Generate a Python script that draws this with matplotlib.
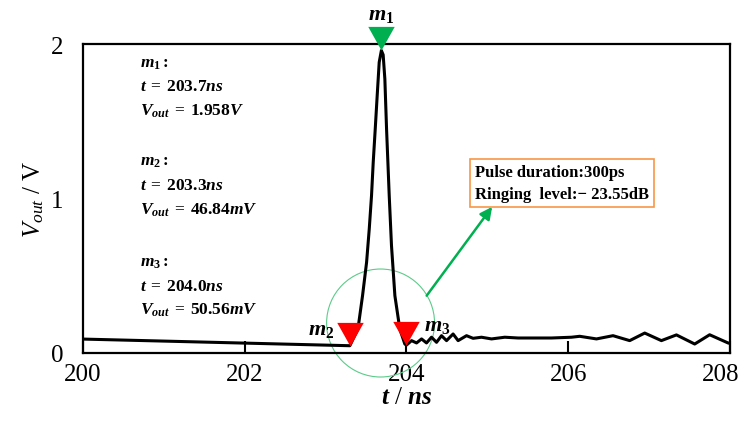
import matplotlib
matplotlib.use("Agg")
import matplotlib.pyplot as plt
import matplotlib.transforms as mtransforms
from matplotlib.path import Path
from matplotlib.patches import Ellipse

plt.rcParams['font.family'] = ['Liberation Serif', 'DejaVu Serif']
plt.rcParams['mathtext.fontset'] = 'custom'
plt.rcParams['mathtext.rm'] = 'Liberation Serif'
plt.rcParams['mathtext.it'] = 'Liberation Serif:italic'
plt.rcParams['mathtext.bf'] = 'Liberation Serif:bold'
plt.rcParams['mathtext.bfit'] = 'Liberation Serif:bold:italic'

# 読み取った波形 (ns, V)
t_base = [200.0, 203.3]
v_base = [0.09, 0.047]

t_peak = [203.3, 203.40, 203.457, 203.507, 203.54, 203.568, 203.589, 203.614,
          203.638, 203.663, 203.69, 203.712, 203.733, 203.754, 203.787,
          203.815, 203.857, 203.918, 203.98, 204.0]
v_peak = [0.047, 0.155, 0.371, 0.587, 0.803, 1.018, 1.234, 1.45,
          1.665, 1.882, 1.958, 1.93, 1.773, 1.45, 1.018,
          0.695, 0.371, 0.155, 0.058, 0.051]

t_ring = [204.063, 204.125, 204.187, 204.248, 204.310, 204.372, 204.434,
          204.496, 204.577, 204.639, 204.743, 204.824, 204.928, 205.052,
          205.216, 205.381, 205.587, 205.794, 206.041, 206.143, 206.350,
          206.555, 206.761, 206.947, 207.153, 207.339, 207.565, 207.750,
          207.977, 208.0]
v_ring = [0.080, 0.065, 0.091, 0.065, 0.102, 0.069, 0.112,
          0.080, 0.123, 0.080, 0.112, 0.095, 0.102, 0.091,
          0.102, 0.097, 0.097, 0.097, 0.102, 0.108, 0.091,
          0.112, 0.080, 0.129, 0.080, 0.117, 0.058, 0.118,
          0.065, 0.062]

t = t_base + t_peak[1:] + t_ring
v = v_base + v_peak[1:] + v_ring

# マーカー
m_t = [203.69, 203.3, 204.0]
m_v = [1.958, 0.047, 0.051]

x_ticks = [200, 202, 204, 206, 208]
y_ticks = [0, 1, 2]

fig = plt.figure(figsize=(7.44, 4.27), dpi=100)
ax = fig.add_axes([0.1116, 0.171, 0.8694, 0.7236])

ax.plot(t, v, color='black', lw=2.2, zorder=3)

# 先端が点を指す下向き三角
tri = Path([(-0.56, 1.0), (0.56, 1.0), (0.0, 0.0), (-0.56, 1.0)],
           [Path.MOVETO, Path.LINETO, Path.LINETO, Path.CLOSEPOLY])
ax.plot(m_t[0], m_v[0], marker=tri, ms=34, color='#00B050', mec='none',
        ls='none', clip_on=False, zorder=5)
ax.plot(m_t[1:], m_v[1:], marker=tri, ms=34, color='#FF0000', mec='none',
        ls='none', clip_on=False, zorder=5)

ax.text(203.69, 2.19, r'$\mathbfit{m}_{\mathbf{1}}$', fontsize=16,
        ha='center', va='center')
ax.text(202.95, 0.15, r'$\mathbfit{m}_{\mathbf{2}}$', fontsize=16,
        ha='center', va='center')
ax.text(204.38, 0.18, r'$\mathbfit{m}_{\mathbf{3}}$', fontsize=16,
        ha='center', va='center')

blocks = [
    (1.88, r'$\mathbfit{m}_{\mathbf{1}}\mathbf{:}$',
     r'$\mathbfit{t}\;=\;\mathbf{203.7}\mathbfit{ns}$',
     r'$\mathbfit{V}_{\mathbfit{out}}\;=\;\mathbf{1.958}\mathbfit{V}$'),
    (1.24, r'$\mathbfit{m}_{\mathbf{2}}\mathbf{:}$',
     r'$\mathbfit{t}\;=\;\mathbf{203.3}\mathbfit{ns}$',
     r'$\mathbfit{V}_{\mathbfit{out}}\;=\;\mathbf{46.84}\mathbfit{mV}$'),
    (0.59, r'$\mathbfit{m}_{\mathbf{3}}\mathbf{:}$',
     r'$\mathbfit{t}\;=\;\mathbf{204.0}\mathbfit{ns}$',
     r'$\mathbfit{V}_{\mathbfit{out}}\;=\;\mathbf{50.56}\mathbfit{mV}$'),
]
for y0, a, b, c in blocks:
    for i, s in enumerate([a, b, c]):
        ax.text(200.7, y0 - i * 0.155, s, fontsize=12.5, ha='left', va='center')

# 拡大円と矢印
ax.add_patch(Ellipse((203.68, 0.194), 1.335, 0.699, fill=False,
                     ec='#5DCB8A', lw=0.8, clip_on=False, zorder=2))
ax.annotate('', xy=(205.06, 0.946), xytext=(204.25, 0.371),
            arrowprops=dict(arrowstyle='-|>', color='#00B050', lw=1.8,
                            mutation_scale=18, shrinkA=0, shrinkB=0))
ax.text(204.85, 1.1, 'Pulse duration:300ps\nRinging  level:\u2212 23.55dB',
        fontsize=12, fontweight='bold', ha='left', va='center',
        linespacing=1.55,
        bbox=dict(boxstyle='square,pad=0.3', fc='white', ec='#F79646', lw=1.2))

ax.set_xlim(200, 208)
ax.set_ylim(0, 2)
ax.set_xticks(x_ticks)
ax.set_yticks(y_ticks)
ax.tick_params(axis='x', direction='in', length=9, width=1.5, labelsize=18, pad=7)
ax.tick_params(axis='y', length=0, labelsize=18, pad=14)
for s in ax.spines.values():
    s.set_linewidth(1.6)

# 右端の目盛ラベルを少し左へ
last = ax.get_xticklabels()[-1]
last.set_transform(last.get_transform() +
                   mtransforms.ScaledTranslation(-7 / 72, 0, fig.dpi_scale_trans))

ax.set_xlabel(r'$\mathbfit{t}$ / $\mathbfit{ns}$', fontsize=18, labelpad=1)
ax.set_ylabel(r'$V_{\mathit{out}}$ / V', fontsize=18, labelpad=4)

fig.savefig('out.png', dpi=100)
